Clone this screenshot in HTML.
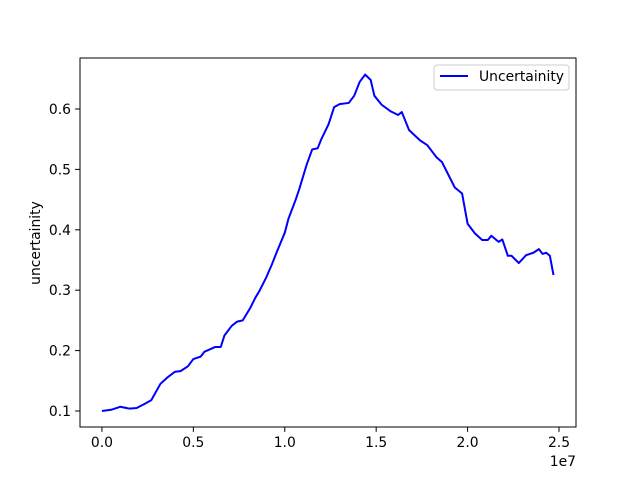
<!DOCTYPE html>
<html><head><meta charset="utf-8"><style>
body{margin:0;background:#fff;}
svg{display:block;font-family:"DejaVu Sans","Liberation Sans",sans-serif;}
</style></head><body>
<svg id="chart" width="640" height="480" viewBox="0 0 640 480">
<rect width="640" height="480" fill="#fff"/>
<g id="plot"></g>
</svg>
<script>
const xValues=[0,0.5,1.0,1.5,1.9,2.35,2.7,3.2,3.6,4.0,4.3,4.7,5.0,5.4,5.6,6.2,6.5,6.7,7.1,7.4,7.7,8.1,8.4,8.6,9.0,9.3,9.6,10.0,10.2,10.6,10.8,11.2,11.5,11.8,12.0,12.4,12.7,13.0,13.5,13.8,14.1,14.4,14.7,14.9,15.3,15.8,16.2,16.4,16.8,17.4,17.8,18.3,18.6,18.9,19.3,19.7,20.0,20.4,20.8,21.1,21.3,21.7,21.9,22.2,22.4,22.8,23.2,23.6,23.9,24.1,24.3,24.5,24.7];
const yValues=[0.100,0.102,0.107,0.104,0.105,0.112,0.118,0.145,0.156,0.165,0.166,0.174,0.186,0.19,0.198,0.206,0.206,0.225,0.241,0.248,0.25,0.27,0.288,0.298,0.322,0.343,0.366,0.395,0.418,0.45,0.468,0.508,0.533,0.535,0.55,0.575,0.603,0.608,0.61,0.622,0.645,0.657,0.648,0.622,0.607,0.596,0.59,0.595,0.565,0.548,0.54,0.52,0.512,0.494,0.47,0.46,0.41,0.394,0.383,0.383,0.39,0.38,0.384,0.357,0.357,0.345,0.358,0.362,0.368,0.36,0.362,0.357,0.325];
const xTicks=[0,0.5,1.0,1.5,2.0,2.5];
const xTickLabels=["0.0","0.5","1.0","1.5","2.0","2.5"];
const yTicks=[0.1,0.2,0.3,0.4,0.5,0.6];
const yTickLabels=["0.1","0.2","0.3","0.4","0.5","0.6"];
const L=80,R=576,T=58,B=427;
const xMin=-1.2,xMax=25.93,yMin=0.0735,yMax=0.6844;
const FS=13.9;
const sx=v=>L+(v-xMin)/(xMax-xMin)*(R-L);
const sy=v=>B-(v-yMin)/(yMax-yMin)*(B-T);
const g=document.getElementById('plot');
const NS="http://www.w3.org/2000/svg";
function mk(tag,attrs,parent){const e=document.createElementNS(NS,tag);for(const k in attrs)e.setAttribute(k,attrs[k]);(parent||g).appendChild(e);return e;}
let d=xValues.map((x,i)=>(i?'L':'M')+sx(x).toFixed(2)+','+sy(yValues[i]).toFixed(2)).join(' ');
const line=mk('path',{d:d,fill:'none',stroke:'#0000ff','stroke-width':2,'stroke-linejoin':'round'});


const frame=mk('rect',{x:L,y:T,width:R-L,height:B-T,fill:'none',stroke:'#000','stroke-width':1});


xTicks.forEach((t,i)=>{const x=sx(t*10);
 const tk=mk('line',{x1:x,x2:x,y1:B,y2:B+4.9,stroke:'#000','stroke-width':1});
 
 
 const tx=mk('text',{x:x,y:B+20,'text-anchor':'middle','font-size':FS});tx.textContent=xTickLabels[i];
 
 
});
yTicks.forEach((t,i)=>{const y=sy(t);
 const tk=mk('line',{x1:L-4.9,x2:L,y1:y,y2:y,stroke:'#000','stroke-width':1});
 
 
 const tx=mk('text',{x:L-9,y:y+5,'text-anchor':'end','font-size':FS});tx.textContent=yTickLabels[i];
 
 
});
const off=mk('text',{x:576,y:466,'text-anchor':'end','font-size':FS});off.textContent='1e7';


const yl=mk('text',{x:0,y:0,'text-anchor':'middle','font-size':FS,transform:'translate(40,243) rotate(-90)'});yl.textContent='uncertainity';


const lg=mk('g',{});


mk('rect',{x:434,y:65,width:135,height:25,rx:3,fill:'#fff','fill-opacity':0.8,stroke:'#ccc','stroke-width':1},lg);
mk('line',{x1:440,x2:468,y1:76,y2:76,stroke:'#0000ff','stroke-width':2},lg);
const lt=mk('text',{x:479,y:81,'font-size':FS},lg);lt.textContent='Uncertainity';


</script>
</body></html>
